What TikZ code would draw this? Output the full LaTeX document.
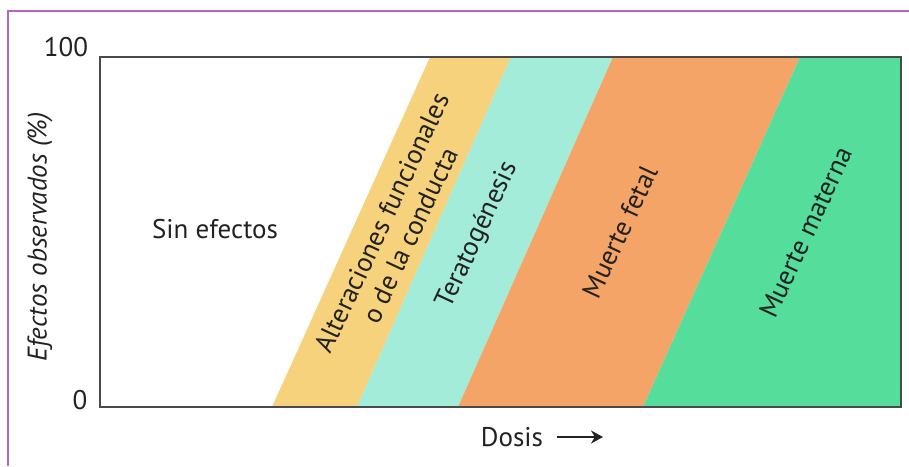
\documentclass[tikz,border=0pt]{standalone}
\usepackage{fontspec}
\setmainfont{PT Sans}
\usetikzlibrary{arrows.meta}
\definecolor{frameline}{HTML}{B866BC}
\definecolor{bandyellow}{HTML}{F6D27C}
\definecolor{bandteal}{HTML}{A3ECD9}
\definecolor{bandorange}{HTML}{F3A466}
\definecolor{bandgreen}{HTML}{55DD9C}
\definecolor{axisgray}{HTML}{4A4A4A}
\definecolor{textgray}{HTML}{222222}
\begin{document}
\begin{tikzpicture}[x=1pt, y=-1pt, font=\fontsize{27}{31}\selectfont, text=textgray,
		bandlabel/.style={rotate=65, align=center, inner sep=0pt}]
		\useasboundingbox (0,0) rectangle (909,466);
		\draw[frameline, line width=2pt] (8,466) -- (8,11) -- (909,11);
		% bands, bottom left / top left / bottom right / top right
		\foreach \xb/\xt/\xbb/\xtt/\col in {272/430/357/511/bandyellow, 357/511/458/613/bandteal, 458/613/643/800/bandorange, 643/800/901/901/bandgreen}{
			\fill[\col] (\xb,407) -- (\xt,57) -- (\xtt,57) -- (\xbb,407) -- cycle;
		}
		\draw[axisgray, line width=2pt] (100,57) rectangle (901,407);
		\node (cien) at (66,47) {100};
		\node (cero) at (80,400) {0};
		\node[rotate=90, font=\fontsize{27}{31}\selectfont\itshape] (efectos) at (40,237) {Efectos observados (\%)};
		\node (sinefectos) at (215,229) {Sin efectos};
		\node[bandlabel] (alteraciones) at (396,229) {Alteraciones funcionales\\o de la conducta};
		\node[bandlabel] (terato) at (478,235) {Teratogénesis};
		\node[bandlabel] (fetal) at (620,232) {Muerte fetal};
		\node[bandlabel] (materna) at (806,232) {Muerte materna};
		\node (dosis) at (512,437) {Dosis};
		\coordinate (flecha) at (603,437);
		\draw[-{Stealth[length=12pt, width=13pt]}, line width=2.5pt, textgray] ([xshift=10pt]dosis.east) -- (flecha);
	\end{tikzpicture}
\end{document}
